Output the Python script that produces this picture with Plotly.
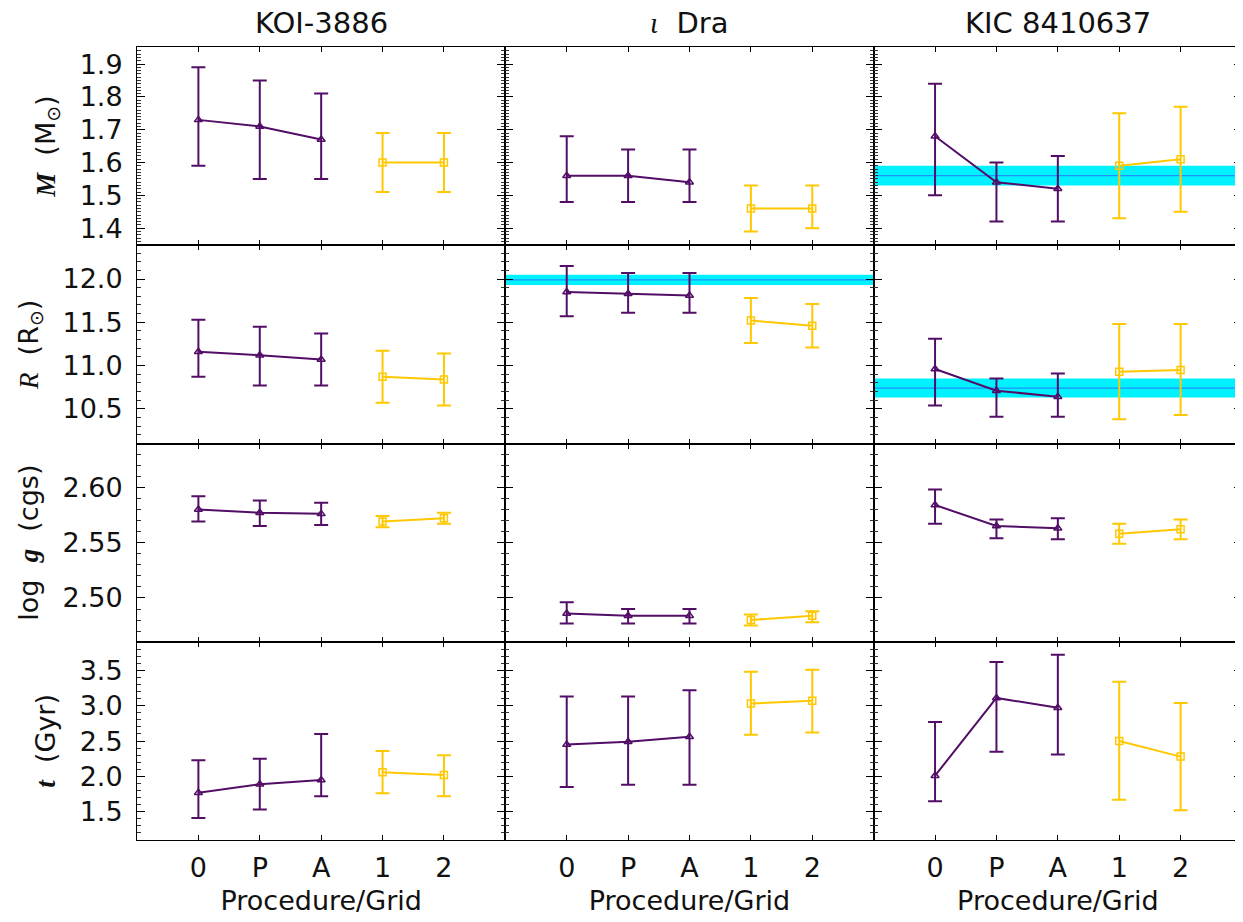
import plotly.graph_objects as go
from plotly.subplots import make_subplots

labels = ["0", "P", "A", "1", "2"]
serif = "'Liberation Serif', 'DejaVu Serif', serif"
stars = ["KOI-3886",
         "<span style=\"font-family:%s\"><i>\u03b9</i></span>  Dra" % serif,
         "KIC 8410637"]

# values, lower and upper ends of error bars
koi_M = [1.73, 1.71, 1.67, 1.60, 1.60]
koi_M_lo = [1.59, 1.55, 1.55, 1.51, 1.51]
koi_M_hi = [1.89, 1.85, 1.81, 1.69, 1.69]
koi_R = [11.16, 11.12, 11.07, 10.87, 10.84]
koi_R_lo = [10.87, 10.77, 10.77, 10.57, 10.54]
koi_R_hi = [11.53, 11.45, 11.37, 11.17, 11.14]
koi_g = [2.580, 2.577, 2.576, 2.569, 2.572]
koi_g_lo = [2.569, 2.565, 2.566, 2.564, 2.567]
koi_g_hi = [2.592, 2.588, 2.586, 2.574, 2.577]
koi_t = [1.77, 1.89, 1.95, 2.06, 2.02]
koi_t_lo = [1.41, 1.53, 1.72, 1.76, 1.72]
koi_t_hi = [2.23, 2.25, 2.60, 2.36, 2.30]

idra_M = [1.56, 1.56, 1.54, 1.46, 1.46]
idra_M_lo = [1.48, 1.48, 1.48, 1.39, 1.40]
idra_M_hi = [1.68, 1.64, 1.64, 1.53, 1.53]
idra_R = [11.85, 11.83, 11.81, 11.52, 11.46]
idra_R_lo = [11.57, 11.61, 11.61, 11.26, 11.21]
idra_R_hi = [12.15, 12.07, 12.07, 11.78, 11.71]
idra_g = [2.486, 2.484, 2.484, 2.480, 2.484]
idra_g_lo = [2.477, 2.477, 2.477, 2.475, 2.478]
idra_g_hi = [2.496, 2.490, 2.490, 2.485, 2.488]
idra_t = [2.45, 2.49, 2.56, 3.03, 3.07]
idra_t_lo = [1.85, 1.88, 1.88, 2.59, 2.62]
idra_t_hi = [3.13, 3.13, 3.22, 3.48, 3.51]

kic_M = [1.68, 1.54, 1.52, 1.59, 1.61]
kic_M_lo = [1.50, 1.42, 1.42, 1.43, 1.45]
kic_M_hi = [1.84, 1.60, 1.62, 1.75, 1.77]
kic_R = [10.96, 10.71, 10.64, 10.93, 10.95]
kic_R_lo = [10.54, 10.41, 10.41, 10.38, 10.43]
kic_R_hi = [11.31, 10.85, 10.91, 11.48, 11.48]
kic_g = [2.584, 2.565, 2.563, 2.558, 2.562]
kic_g_lo = [2.567, 2.554, 2.553, 2.549, 2.553]
kic_g_hi = [2.598, 2.571, 2.572, 2.567, 2.571]
kic_t = [2.01, 3.11, 2.97, 2.50, 2.28]
kic_t_lo = [1.65, 2.35, 2.31, 1.67, 1.52]
kic_t_hi = [2.77, 3.62, 3.72, 3.34, 3.04]

# reference bands (row, col, centre, lo, hi)
band_rows = [2, 1, 2]
band_cols = [2, 3, 3]
band_mid = [11.99, 1.56, 10.74]
band_lo = [11.93, 1.53, 10.63]
band_hi = [12.05, 1.59, 10.85]

data = [
    [(koi_M, koi_M_lo, koi_M_hi), (koi_R, koi_R_lo, koi_R_hi), (koi_g, koi_g_lo, koi_g_hi), (koi_t, koi_t_lo, koi_t_hi)],
    [(idra_M, idra_M_lo, idra_M_hi), (idra_R, idra_R_lo, idra_R_hi), (idra_g, idra_g_lo, idra_g_hi), (idra_t, idra_t_lo, idra_t_hi)],
    [(kic_M, kic_M_lo, kic_M_hi), (kic_R, kic_R_lo, kic_R_hi), (kic_g, kic_g_lo, kic_g_hi), (kic_t, kic_t_lo, kic_t_hi)],
]

y_ranges = [[1.348, 1.952], [10.1, 12.39], [2.4604, 2.6396], [1.1, 3.905]]
y_dtick = [0.1, 0.5, 0.05, 0.5]
y_minor = [0.01, 0.1, 0.01, 0.1]
y_fmt = [".1f", ".1f", ".2f", ".1f"]
y_titles = [
    "<span style=\"font-family:%s\"><b><i>M</i></b></span>  (M<sub>\u2299</sub>)" % serif,
    "<span style=\"font-family:%s\"><i>R</i></span>  (R<sub>\u2299</sub>)" % serif,
    "log  <span style=\"font-family:%s\"><b><i>g</i></b></span>  (cgs)" % serif,
    "<span style=\"font-family:%s\"><b><i>t</i></b></span>  (Gyr)" % serif,
]

PURPLE = "#520e66"
YELLOW = "#ffc800"
CYAN = "#00f2ff"
BLUE = "#1e90ff"
FONT = "DejaVu Sans"

fig = make_subplots(rows=4, cols=3, shared_xaxes=True, shared_yaxes=True,
                    horizontal_spacing=0, vertical_spacing=0)

xpos = list(range(len(labels)))

for c in range(3):
    for r in range(4):
        val, lo, hi = data[c][r]
        for sl, color, sym in [(slice(0, 3), PURPLE, "triangle-up-open"), (slice(3, 5), YELLOW, "square-open")]:
            v = val[sl]
            l = lo[sl]
            h = hi[sl]
            fig.add_trace(go.Scatter(
                x=xpos[sl], y=v, mode="lines+markers",
                line=dict(color=color, width=2),
                marker=dict(symbol=sym, size=7, color=color, line=dict(color=color, width=1.5)),
                error_y=dict(type="data", symmetric=False,
                             array=[b - a for a, b in zip(v, h)],
                             arrayminus=[a - b for a, b in zip(v, l)],
                             color=color, thickness=2, width=7),
                showlegend=False, hoverinfo="skip"), row=r + 1, col=c + 1)

for br, bc, bm, bl, bh in zip(band_rows, band_cols, band_mid, band_lo, band_hi):
    idx = (br - 1) * 3 + bc
    xr = "x%s domain" % ("" if idx == 1 else idx)
    yr = "y%s" % ("" if idx == 1 else idx)
    fig.add_shape(type="rect", xref=xr, yref=yr, x0=0, x1=1, y0=bl, y1=bh,
                  fillcolor=CYAN, line=dict(width=0), layer="below")
    fig.add_shape(type="line", xref=xr, yref=yr, x0=0, x1=1, y0=bm, y1=bm,
                  line=dict(color=BLUE, width=1.2), layer="below")

for r in range(4):
    for c in range(3):
        fig.update_xaxes(row=r + 1, col=c + 1,
                         range=[-1, 5], tickvals=xpos, ticktext=labels,
                         ticks="inside", ticklen=5, tickwidth=1, tickcolor="black",
                         showline=True, linecolor="black", linewidth=1, mirror="ticks",
                         showgrid=False, zeroline=False,
                         showticklabels=(r == 3), ticklabelstandoff=4,
                         tickfont=dict(family=FONT, size=27, color="#111"))
        fig.update_yaxes(row=r + 1, col=c + 1,
                         range=y_ranges[r], dtick=y_dtick[r], tick0=0, tickformat=y_fmt[r],
                         ticks="inside", ticklen=8, tickwidth=1, tickcolor="black",
                         minor=dict(ticks="inside", ticklen=4, dtick=y_minor[r], tickcolor="#333", tickwidth=1),
                         showline=True, linecolor="black", linewidth=1, mirror="ticks",
                         showgrid=False, zeroline=False,
                         showticklabels=(c == 0), ticklabelstandoff=8,
                         tickfont=dict(family=FONT, size=27, color="#111"))
    fig.update_yaxes(row=r + 1, col=1,
                     title=dict(text=y_titles[r], standoff=16,
                                font=dict(family=FONT, size=27, color="#111")))

for c in range(3):
    fig.update_xaxes(row=4, col=c + 1,
                     title=dict(text="Procedure/Grid", standoff=8,
                                font=dict(family=FONT, size=27, color="#111")))

# column titles
for c, name in enumerate(stars):
    xr = "x%s domain" % ("" if c == 0 else c + 1)
    yr = "y%s domain" % ("" if c == 0 else c + 1)
    fig.add_annotation(text=name, xref=xr, yref=yr, x=0.5, y=1, yanchor="bottom",
                       yshift=5, showarrow=False,
                       font=dict(family=FONT, size=29, color="#111"))

# page body has an 8px margin: shrink figure so the plot lands where the reference has it
fig.update_layout(width=1235, height=914,
                  margin=dict(l=129, r=1, t=39, b=82),
                  paper_bgcolor="white", plot_bgcolor="white")

fig.write_html("out.html")
